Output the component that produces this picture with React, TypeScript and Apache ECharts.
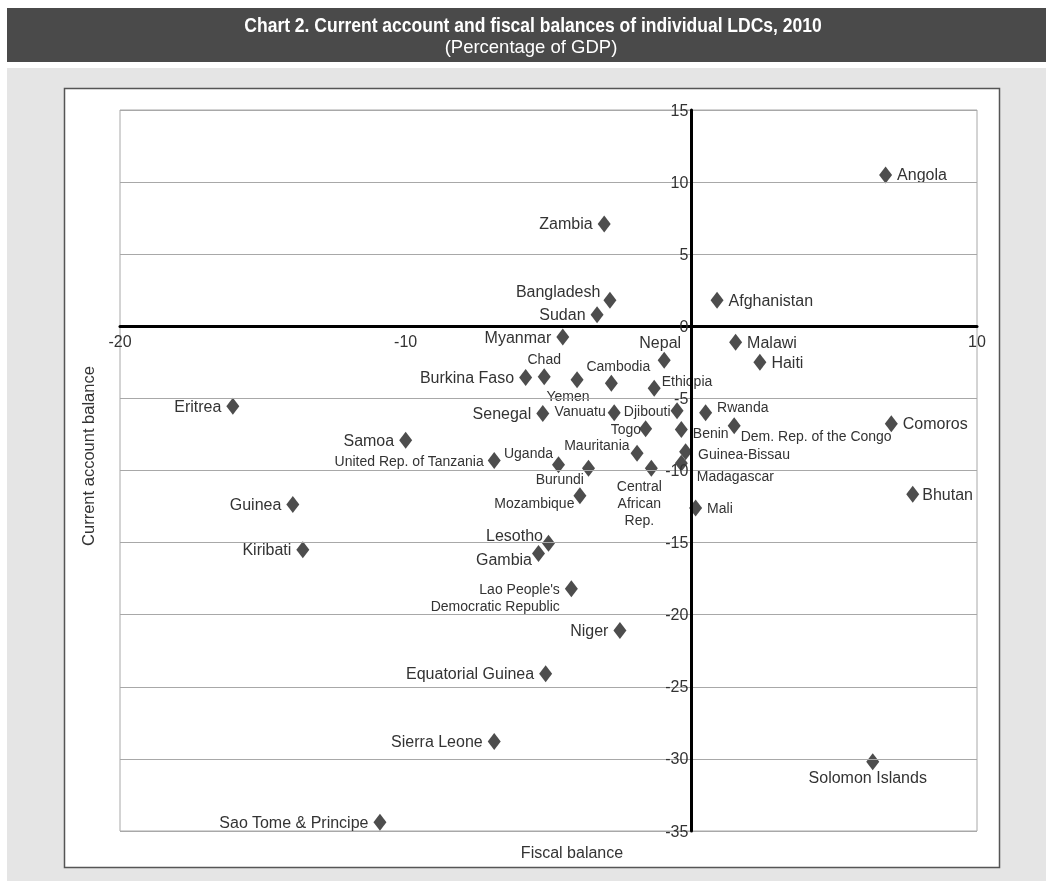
import React, { useEffect, useRef } from "react";
import * as echarts from "echarts";

// ---- Data ----
const countries = [
  "Angola", "Zambia", "Bangladesh", "Sudan", "Afghanistan", "Myanmar", "Nepal", "Malawi", "Haiti",
  "Chad", "Burkina Faso", "Cambodia", "Yemen", "Ethiopia", "Senegal", "Vanuatu", "Djibouti", "Rwanda",
  "Togo", "Benin", "Dem. Rep. of the Congo", "Comoros", "Mauritania", "Guinea-Bissau", "Madagascar",
  "Central\nAfrican\nRep.", "Samoa", "United Rep. of Tanzania", "Uganda", "Burundi", "Mozambique",
  "Eritrea", "Guinea", "Bhutan", "Mali", "Kiribati", "Lesotho", "Gambia",
  "Lao People's\nDemocratic Republic", "Niger", "Equatorial Guinea", "Sierra Leone", "Solomon Islands",
  "Sao Tome & Principe",
];
const fiscalBalance = [
  6.8, -3.05, -2.85, -3.3, 0.9, -4.5, -0.95, 1.55, 2.4,
  -5.15, -5.8, -2.8, -4.0, -1.3, -5.2, -2.7, -0.5, 0.5,
  -1.6, -0.35, 1.5, 7.0, -1.9, -0.2, -0.35,
  -1.4, -10.0, -6.9, -4.65, -3.6, -3.9,
  -16.05, -13.95, 7.75, 0.15, -13.6, -5.0, -5.35,
  -4.2, -2.5, -5.1, -6.9, 6.35,
  -10.9,
];
const currentAccount = [
  10.5, 7.1, 1.8, 0.8, 1.8, -0.75, -2.35, -1.1, -2.5,
  -3.5, -3.55, -3.95, -3.7, -4.3, -6.05, -6.0, -5.85, -6.0,
  -7.1, -7.15, -6.9, -6.75, -8.8, -8.7, -9.5,
  -9.85, -7.9, -9.3, -9.6, -9.85, -11.75,
  -5.55, -12.35, -11.65, -12.6, -15.5, -15.05, -15.75,
  -18.2, -21.1, -24.1, -28.8, -30.2,
  -34.4,
];
const xTicks = [-20, -10, 0, 10];
const yTicks = [15, 10, 5, 0, -5, -10, -15, -20, -25, -30, -35];

// ---- Label placement styles (by index) ----
type LS = { pos: string; dx?: number; dy?: number; narrow?: boolean; align?: string };
const labelStyles: LS[] = [
  { pos: "right" }, { pos: "left" }, { pos: "left", dx: 2, dy: -9 }, { pos: "left" }, { pos: "right" },
  { pos: "left" }, { pos: "top", dx: -4, dy: 4 }, { pos: "right" }, { pos: "right" },
  { pos: "top", dx: 0, dy: 4, narrow: true }, { pos: "left" }, { pos: "top", dx: 7, dy: 5, narrow: true },
  { pos: "bottom", dx: -9, dy: -6, narrow: true }, { pos: "right", dx: -4, dy: -7, narrow: true },
  { pos: "left" }, { pos: "left", dx: 3, dy: -2, narrow: true }, { pos: "left", dx: 5, dy: 0, narrow: true },
  { pos: "right", dx: 0, dy: -6, narrow: true },
  { pos: "left", dx: 7, dy: 0, narrow: true }, { pos: "right", dx: 0, dy: 4, narrow: true },
  { pos: "right", dx: -5, dy: 10, narrow: true }, { pos: "right" },
  { pos: "left", dx: 4, dy: -8, narrow: true }, { pos: "right", dx: 1, dy: 2, narrow: true },
  { pos: "right", dx: 4, dy: 13, narrow: true },
  { pos: "bottom", dx: -12, dy: -4, narrow: true, align: "center" }, { pos: "left" },
  { pos: "left", dx: 1, dy: 1, narrow: true }, { pos: "left", dx: 6, dy: -12, narrow: true },
  { pos: "left", dx: 7, dy: 11, narrow: true }, { pos: "left", dx: 6, dy: 7, narrow: true },
  { pos: "left" }, { pos: "left" }, { pos: "right", dx: -2, dy: 0 }, { pos: "right", narrow: true },
  { pos: "left" }, { pos: "left", dx: 6, dy: -8 }, { pos: "left", dx: 5, dy: 6 },
  { pos: "left", dx: 0, dy: 9, narrow: true, align: "right" }, { pos: "left" }, { pos: "left" },
  { pos: "left" }, { pos: "bottom", dx: -5, dy: -6 },
  { pos: "left" },
];

const REG = "'Liberation Sans', Arial, Helvetica, sans-serif";
const TEXT = "#333333";

const GRID = { left: 120, top: 110, width: 857, height: 721 };

export default function App() {
  const ref = useRef<HTMLDivElement>(null);
  useEffect(() => {
    if (!ref.current) return;
    const chart = echarts.init(ref.current, undefined, { renderer: "svg" });
    const xMin = xTicks[0], xMax = xTicks[xTicks.length - 1];
    const yMin = yTicks[yTicks.length - 1], yMax = yTicks[0];
    // move the axes (line + labels) onto the zero lines of the other axis
    const xAxisOffset = -GRID.height * (0 - yMin) / (yMax - yMin);
    const yAxisOffset = -GRID.width * (0 - xMin) / (xMax - xMin);
    const data = countries.map((name, i) => {
      const s = labelStyles[i];
      return {
        name,
        value: [fiscalBalance[i], currentAccount[i]],
        label: {
          show: true,
          position: s.pos,
          offset: [s.dx || 0, s.dy || 0],
          fontFamily: REG,
          fontSize: s.narrow ? 14 : 16,
          lineHeight: 17,
          color: TEXT,
          align: s.align,
          formatter: "{b}",
        },
      };
    });
    chart.setOption({
      animation: false,
      graphic: [
        { type: "rect", z: -10, shape: { x: 7, y: 8, width: 1039, height: 54 }, style: { fill: "#4a4a4a" } },
        { type: "rect", z: -10, shape: { x: 7, y: 68, width: 1039, height: 813 }, style: { fill: "#e5e5e5" } },
        {
          type: "rect", z: -9, shape: { x: 64.5, y: 88.5, width: 935, height: 779 },
          style: { fill: "#ffffff", stroke: "#555555", lineWidth: 1.5 },
        },
        {
          type: "text", z: 10, x: 533, y: 25, scaleX: 0.875,
          style: {
            text: "Chart 2. Current account and fiscal balances of individual LDCs, 2010",
            fill: "#ffffff", font: `bold 20px ${REG}`, align: "center", verticalAlign: "middle",
          },
        },
        {
          type: "text", z: 10, x: 531, y: 46,
          style: {
            text: "(Percentage of GDP)", fill: "#ffffff", font: `18.5px ${REG}`,
            align: "center", verticalAlign: "middle",
          },
        },
        {
          type: "text", z: 10, x: 88, y: 456, rotation: Math.PI / 2,
          style: {
            text: "Current account balance", fill: TEXT, font: `16.5px ${REG}`,
            align: "center", verticalAlign: "middle",
          },
        },
        {
          type: "text", z: 10, x: 572, y: 852,
          style: {
            text: "Fiscal balance", fill: TEXT, font: `16px ${REG}`,
            align: "center", verticalAlign: "middle",
          },
        },
      ],
      grid: {
        ...GRID,
        show: true, borderColor: "#a8a8a8", borderWidth: 1, backgroundColor: "transparent",
      },
      xAxis: {
        type: "value", min: xMin, max: xMax, interval: 10, z: 5,
        offset: xAxisOffset,
        axisLine: { show: true, onZero: false, lineStyle: { color: "#000", width: 3 } },
        axisTick: { show: false },
        splitLine: { show: false },
        axisLabel: {
          color: TEXT, fontSize: 16, fontFamily: REG, margin: 7,
          formatter: (v: number) => (v === 0 ? "" : String(v)),
        },
      },
      yAxis: {
        type: "value", min: yMin, max: yMax, interval: 5, z: 5,
        offset: yAxisOffset,
        axisLine: { show: true, onZero: false, lineStyle: { color: "#000", width: 3 } },
        axisTick: { show: false },
        splitLine: { show: true, lineStyle: { color: "#a8a8a8", width: 1 } },
        axisLabel: { color: TEXT, fontSize: 16, fontFamily: REG, margin: 3 },
      },
      series: [
        {
          type: "scatter",
          symbol: "diamond",
          symbolSize: [13, 17],
          itemStyle: { color: "#4d4d4d", opacity: 1 },
          data,
        },
      ],
    });
    return () => chart.dispose();
  }, []);
  return <div ref={ref} style={{ position: "fixed", left: 0, top: 0, width: 1046, height: 881 }} />;
}
